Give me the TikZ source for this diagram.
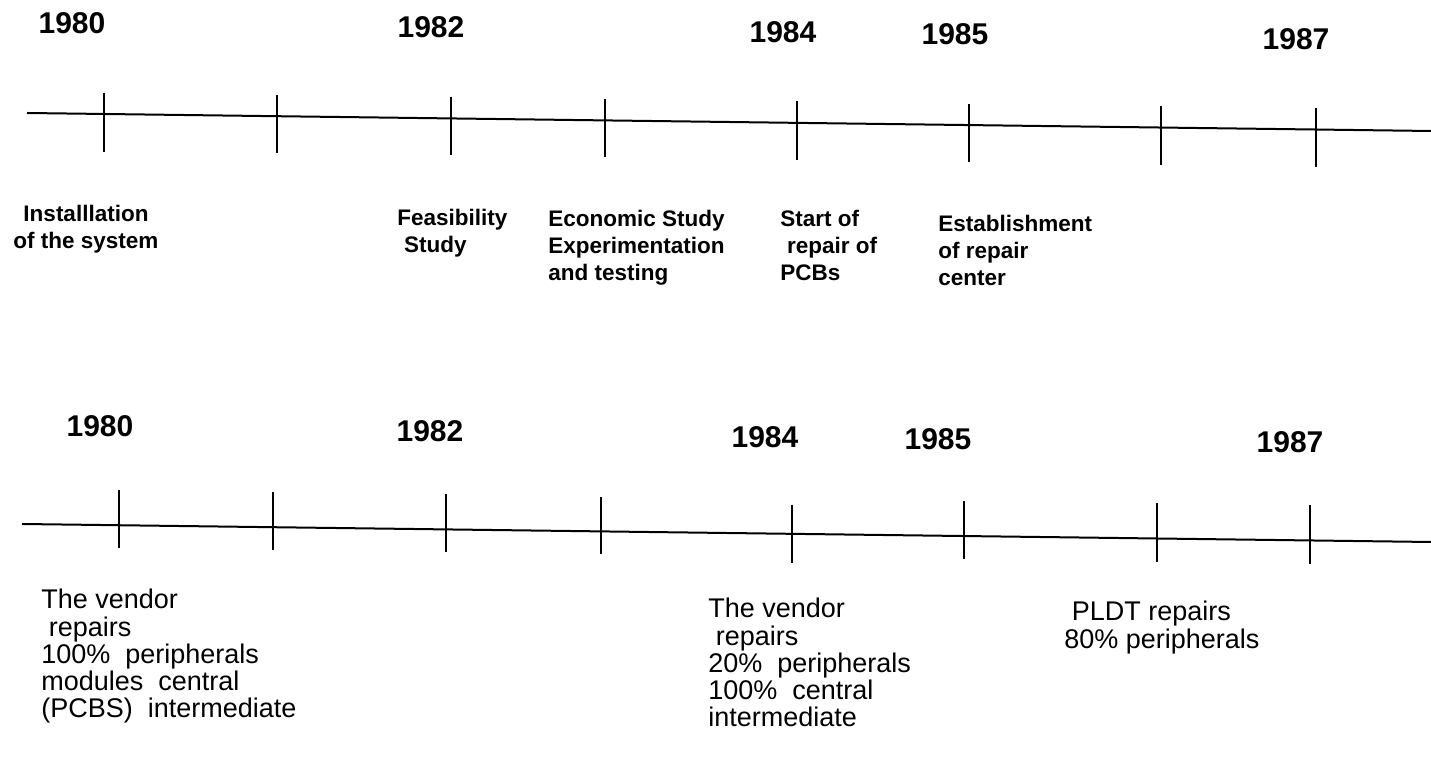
\documentclass[tikz,border=0pt]{standalone}
\usepackage{fontspec}
\setmainfont{Liberation Sans}
\usepackage{tikz}
\usetikzlibrary{calc,positioning}
\tikzstyle{axis}    =[line width=1pt]
\tikzstyle{tickline}=[line width=1.1pt]
\tikzstyle{year}    =[anchor=base, inner sep=0pt,
                      font=\fontsize{15}{18}\selectfont\bfseries]
\tikzstyle{event}   =[anchor=north west, inner sep=0pt, align=left,
                      font=\fontsize{11.25}{13.5}\selectfont\bfseries]
\tikzstyle{note}    =[anchor=north west, inner sep=0pt, align=left,
                      font=\fontsize{13.5}{13.6}\selectfont]

\begin{document}
\begin{tikzpicture}[x=0.5pt,y=-0.5pt]
    \useasboundingbox (0,0) rectangle (1431,763);

        \begin{scope}
            \coordinate (a1) at (27,113);
            \coordinate (b1) at (1431,131);
            \draw [axis] (a1) -- (b1);

            \foreach \x/\u/\v in{104/93/152,277/95/153,451/97/155,605/99/157,
            797/101/160,969/104/162,1161/106/165,1316/108/167}
            \draw [tickline] (\x,\u) -- (\x,\v);

            \draw (72,34) node (y80) [year] {1980};
            \draw (431,38) node (y82) [year] {1982};
            \draw (783,43) node (y84) [year] {1984};
            \draw (955,45) node (y85) [year] {1985};
            \draw (1296,50) node (y87) [year] {1987};

            \draw (86,205) node (inst) [event,anchor=north,align=center] {Installlation\\of the system};
            \draw (397,209) node (feas) [event] {Feasibility\\\hspace*{.3em}Study};
            \draw (548,210) node (econ) [event] {Economic Study\\Experimentation\\and testing};
            \draw (780,210) node (start) [event] {Start of\\\hspace*{.3em}repair of\\PCBs};
            \draw (938,215) node (estab) [event] {Establishment\\of repair\\center};
        \end{scope}

        \begin{scope}
            \coordinate (a2) at (22,524);
            \coordinate (b2) at (1431,542);
            \draw [axis] (a2) -- (b2);

            \foreach \x/\u/\v in{119/490/548,273/492/550,446/494/552,601/497/554,
            792/505/563,964/501/559,1157/503/562,1310/505/564}
            \draw [tickline] (\x,\u) -- (\x,\v);

            \draw (100,437) node (z80) [year] {1980};
            \draw (430,442) node (z82) [year] {1982};
            \draw (765,448) node (z84) [year] {1984};
            \draw (938,450) node (z85) [year] {1985};
            \draw (1290,453) node (z87) [year] {1987};

            \draw (41,589) node (vendA) [note] {The vendor\\\hspace*{.28em}repairs\\100\%~~peripherals\\modules~~central\\(PCBS)~~intermediate};
            \draw (708,598) node (vendB) [note] {The vendor\\\hspace*{.28em}repairs\\20\%~~peripherals\\100\%~~central\\intermediate};
            \draw (1064,601) node (pldt) [note] {\hspace*{.28em}PLDT repairs\\80\% peripherals};
        \end{scope}

\end{tikzpicture}
\end{document}
